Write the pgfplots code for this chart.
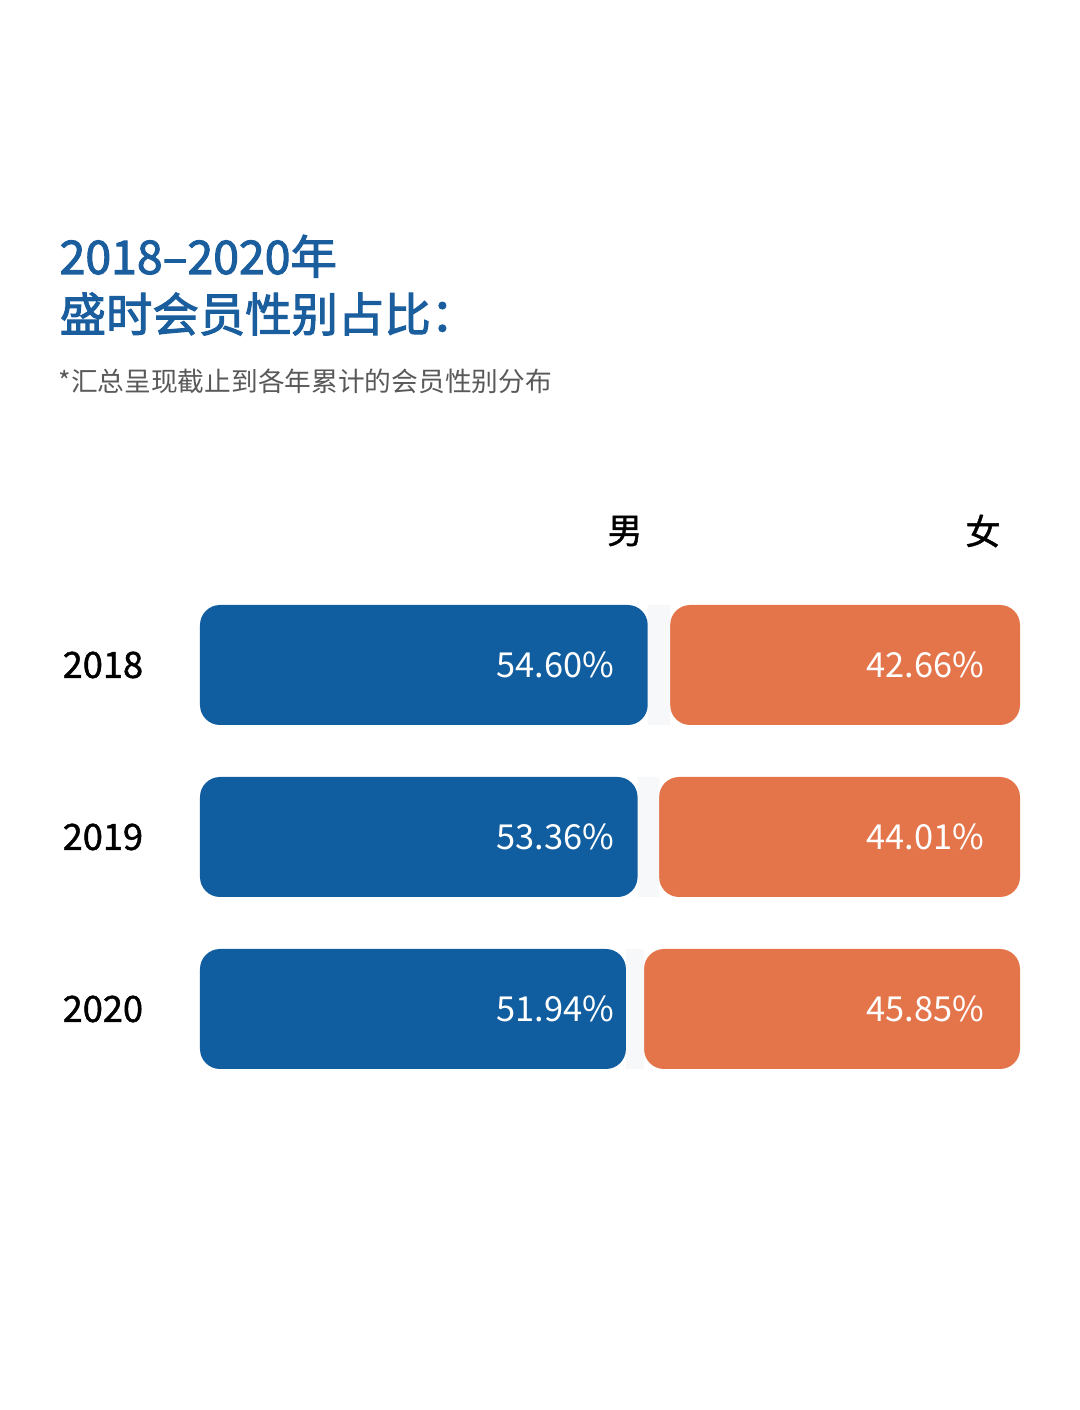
\documentclass[border=0pt]{standalone}
\usepackage{fontspec}
\setmainfont{Noto Sans CJK SC}
\newfontfamily\titlefont{Noto Sans CJK SC}[FakeBold=2.2]
\newfontfamily\medfont{Noto Sans CJK SC}[FakeBold=1.2]
\usepackage{pgfplots}
\pgfplotsset{compat=1.18}
\definecolor{mblue}{HTML}{105EA0}
\definecolor{morange}{HTML}{E4754A}
\definecolor{tblue}{HTML}{1A5E9E}
\definecolor{gapc}{HTML}{F7F8F9}
\pgfplotsset{base/.style={scale only axis, width=108mm, height=141mm,
  xmin=-24.390, xmax=107.317, ymin=0, ymax=1410,
  axis lines=none, ticks=none, clip=false}}
\begin{document}
\begin{tikzpicture}
\begin{axis}[base, xbar stacked, bar width=12mm]
\addplot[fill=mblue, draw=none, rounded corners=2mm] coordinates {(54.60,745) (53.36,573) (51.94,401)};
\addplot[fill=gapc, draw=none] coordinates {(2.74,745) (2.63,573) (2.21,401)};
\addplot[fill=morange, draw=none, rounded corners=2mm] coordinates {(42.66,745) (44.01,573) (45.85,401)};
\path (rel axis cs:0,0) rectangle (rel axis cs:1,1);
\node[anchor=base west, inner sep=0, text=tblue, font=\fontsize{13.2}{16}\titlefont] at (axis cs:-17.2,1136) {2018–2020年};
\node[anchor=west, inner sep=0, text=tblue, font=\fontsize{13.2}{16}\titlefont] at (axis cs:-17.2,1096) {盛时会员性别占比：};
\node[anchor=west, inner sep=0, text=black!65, font=\fontsize{7.6}{9}\selectfont] at (axis cs:-17.32,1029) {*汇总呈现截止到各年累计的会员性别分布};
\node[inner sep=0, font=\fontsize{10}{12}\medfont] at (axis cs:51.83,879) {男};
\node[inner sep=0, font=\fontsize{10}{12}\medfont] at (axis cs:95.49,879) {女};
\node[anchor=west, inner sep=0, font=\fontsize{10.3}{12}\medfont] at (axis cs:-16.83,745) {2018};
\node[anchor=west, inner sep=0, font=\fontsize{10.3}{12}\medfont] at (axis cs:-16.83,573) {2019};
\node[anchor=west, inner sep=0, font=\fontsize{10.3}{12}\medfont] at (axis cs:-16.83,401) {2020};
\end{axis}
\begin{axis}[base]
\addplot[only marks, mark=none, nodes near coords, point meta=explicit symbolic,
  nodes near coords style={anchor=east, inner sep=0, text=white, font=\fontsize{9.8}{12}\selectfont}]
  coordinates {(50.61,745)[54.60\%] (50.61,573)[53.36\%] (50.61,401)[51.94\%]};
\addplot[only marks, mark=none, nodes near coords, point meta=explicit symbolic,
  nodes near coords style={anchor=east, inner sep=0, text=white, font=\fontsize{9.8}{12}\selectfont}]
  coordinates {(95.73,745)[42.66\%] (95.73,573)[44.01\%] (95.73,401)[45.85\%]};
\end{axis}
\end{tikzpicture}
\end{document}
